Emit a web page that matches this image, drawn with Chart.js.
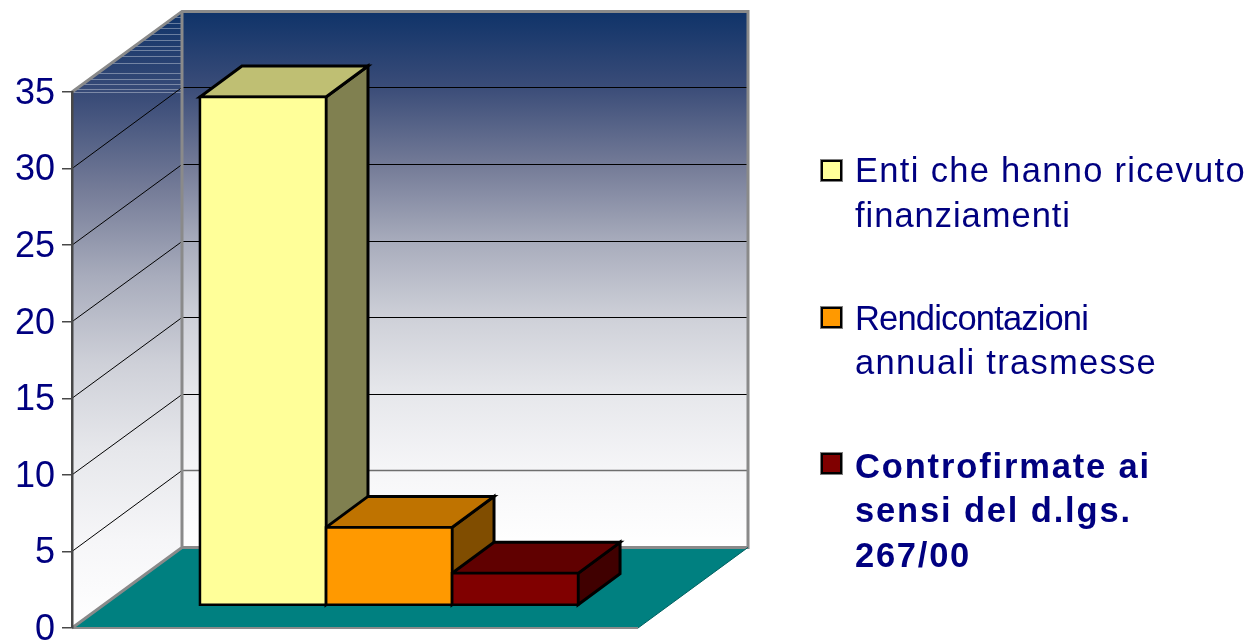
<!DOCTYPE html>
<html>
<head>
<meta charset="utf-8">
<style>html,body{margin:0;padding:0;background:#fff}canvas{display:block}</style>
<script src="https://cdn.jsdelivr.net/npm/chart.js@4/dist/chart.umd.js"></script>
</head>
<body>
<canvas id="c" width="1249" height="641"></canvas>
<script>
const categories = [""];
const seriesNames = ["Enti che hanno ricevuto finanziamenti", "Rendicontazioni annuali trasmesse", "Controfirmate ai sensi del d.lgs. 267/00"];
const enti = [33.2];
const rendicontazioni = [5.1];
const controfirmate = [2.1];
const yTicks = [0, 5, 10, 15, 20, 25, 30, 35];
const legendLines = [["Enti che hanno ricevuto", "finanziamenti"], ["Rendicontazioni", "annuali trasmesse"], ["Controfirmate ai", "sensi del d.lgs.", "267/00"]];
const colors = ["#ffff99", "#ff9900", "#800000"];
const topColors = ["#bfbf73", "#bf7300", "#600000"];
const sideColors = ["#808050", "#804d00", "#400000"];

const NAVY = "#000080";
const WALL = {dx: 110, dy: -80.6};      // depth of the box
const BAR_PLANE = {dx: 34, dy: -22.5};  // front plane of the bars inside the box
const BAR_DEPTH = {dx: 42, dy: -31};
const HAIRLINES = [17, 23, 28, 34, 40, 46, 50, 56, 63, 73, 79, 84, 89, 92];

function poly(ctx, pts, fill, stroke, lw) {
  ctx.beginPath();
  pts.forEach((p, i) => i ? ctx.lineTo(p[0], p[1]) : ctx.moveTo(p[0], p[1]));
  ctx.closePath();
  if (fill) { ctx.fillStyle = fill; ctx.fill(); }
  if (stroke) { ctx.strokeStyle = stroke; ctx.lineWidth = lw; ctx.lineJoin = "miter"; ctx.stroke(); }
}
function wallGradient(ctx, y0, y1) {
  const g = ctx.createLinearGradient(0, y0, 0, y1);
  g.addColorStop(0, "#0f3369");
  g.addColorStop(0.14, "#3a4c78");
  g.addColorStop(0.29, "#757c98");
  g.addColorStop(0.43, "#a8acbc");
  g.addColorStop(0.57, "#ced0d8");
  g.addColorStop(0.71, "#e6e7eb");
  g.addColorStop(0.86, "#f6f6f8");
  g.addColorStop(1, "#ffffff");
  return g;
}

const box3d = {
  id: "box3d",
  beforeDraw(chart) {
    const {ctx, chartArea: a, scales: {y}} = chart;
    const {dx, dy} = WALL;
    const L = a.left, R = a.right, T = a.top, B = a.bottom;
    ctx.save();
    poly(ctx, [[L + dx, T + dy], [R + dx, T + dy], [R + dx, B + dy], [L + dx, B + dy]], wallGradient(ctx, T + dy, B + dy));
    const side = [[L, B], [L, T], [L + dx, T + dy], [L + dx, B + dy]];
    poly(ctx, side, wallGradient(ctx, T + dy, B));
    // faint streaks in the top of the side wall
    ctx.save();
    ctx.beginPath();
    side.forEach((p, i) => i ? ctx.lineTo(p[0], p[1]) : ctx.moveTo(p[0], p[1]));
    ctx.closePath();
    ctx.clip();
    ctx.strokeStyle = "rgba(255,255,255,0.35)";
    ctx.lineWidth = 1;
    HAIRLINES.forEach(h => { ctx.beginPath(); ctx.moveTo(L, h + 0.5); ctx.lineTo(L + dx, h + 0.5); ctx.stroke(); });
    ctx.restore();
    // floor
    poly(ctx, [[L, B], [R, B], [R + dx, B + dy], [L + dx, B + dy]], "#008080");
    // gridlines on both walls
    yTicks.forEach(v => {
      if (v === 0 || v === 35) return;
      const p = y.getPixelForValue(v);
      const back = Math.floor(p + dy) + 0.5;
      ctx.strokeStyle = "#000000";
      ctx.lineWidth = 1;
      ctx.beginPath();
      ctx.moveTo(L, p);
      ctx.lineTo(L + dx, back);
      ctx.stroke();
      if (v === 5) { ctx.strokeStyle = "#6e6e6e"; ctx.lineWidth = 1.5; }
      ctx.beginPath();
      ctx.moveTo(L + dx, back);
      ctx.lineTo(R + dx, back);
      ctx.stroke();
    });
    // grey frame of the walls
    ctx.strokeStyle = "#8a8a8a";
    ctx.lineWidth = 3;
    ctx.lineJoin = "miter";
    ctx.beginPath();
    ctx.moveTo(L, T); ctx.lineTo(L + dx, T + dy); ctx.lineTo(R + dx, T + dy); ctx.lineTo(R + dx, B + dy);
    ctx.lineTo(L + dx, B + dy); ctx.moveTo(L + dx, T + dy); ctx.lineTo(L + dx, B + dy);
    ctx.lineTo(L, B); ctx.stroke();
    ctx.lineWidth = 2;
    ctx.beginPath();
    ctx.moveTo(L, B); ctx.lineTo(R, B); ctx.stroke();
    ctx.lineWidth = 1;
    ctx.strokeStyle = "#006060";
    ctx.beginPath();
    ctx.moveTo(R, B); ctx.lineTo(R + dx, B + dy); ctx.stroke();
    ctx.restore();
  },
  beforeDatasetsDraw(chart) {
    const {ctx} = chart;
    ctx.save();
    ctx.translate(BAR_PLANE.dx, BAR_PLANE.dy);
    const {dx, dy} = BAR_DEPTH;
    chart.data.datasets.forEach((ds, i) => {
      const bar = chart.getDatasetMeta(i).data[0];
      const l = bar.x - bar.width / 2, r = bar.x + bar.width / 2, t = bar.y, b = bar.base;
      poly(ctx, [[r, t], [r + dx, t + dy], [r + dx, b + dy], [r, b]], sideColors[i], "#000", 3);
      poly(ctx, [[l, t], [r, t], [r + dx, t + dy], [l + dx, t + dy]], topColors[i], "#000", 3);
    });
  },
  afterDatasetsDraw(chart) {
    const {ctx} = chart;
    chart.data.datasets.forEach((ds, i) => {
      const bar = chart.getDatasetMeta(i).data[0];
      const l = bar.x - bar.width / 2, r = bar.x + bar.width / 2;
      poly(ctx, [[l, bar.y], [r, bar.y], [r, bar.base], [l, bar.base]], null, "#000", 2.5);
    });
    ctx.restore();
  },
  afterDraw(chart) {
    const {ctx} = chart;
    ctx.save();
    const swatchY = [159, 306, 452];
    const base = [[182, 226.5], [330, 373.5], [478, 522, 567]];
    const lineWidths = [[391, 216], [233, 302], [296, 277, 116]];
    ctx.textAlign = "left";
    ctx.textBaseline = "alphabetic";
    legendLines.forEach((lines, i) => {
      ctx.fillStyle = "#808080";
      ctx.fillRect(820, swatchY[i], 23, 23);
      ctx.fillStyle = "#000";
      ctx.fillRect(821, swatchY[i] + 1, 21, 21);
      ctx.fillStyle = colors[i];
      ctx.fillRect(823, swatchY[i] + 3, 17, 17);
      const bold = i === 2;
      ctx.fillStyle = NAVY;
      ctx.font = (bold ? "bold " : "") + "34.5px 'Liberation Sans'";
      lines.forEach((t, k) => {
        ctx.letterSpacing = "0px";
        const w = ctx.measureText(t).width;
        ctx.letterSpacing = ((lineWidths[i][k] - w) / t.length).toFixed(2) + "px";
        ctx.fillText(t, 855, base[i][k]);
      });
    });
    ctx.letterSpacing = "0px";
    ctx.restore();
  }
};

new Chart(document.getElementById("c"), {
  type: "bar",
  data: {
    labels: categories,
    datasets: [enti, rendicontazioni, controfirmate].map((d, i) => ({
      label: seriesNames[i],
      data: d,
      backgroundColor: colors[i],
      borderWidth: 0,
      barPercentage: 1,
      categoryPercentage: 0.668,
      clip: false
    }))
  },
  options: {
    responsive: false,
    animation: false,
    events: [],
    layout: {padding: {top: 92, right: 611, bottom: 13, left: 0}},
    plugins: {legend: {display: false}, tooltip: {enabled: false}, title: {display: false}},
    scales: {
      x: {display: false},
      y: {
        min: 0,
        max: 35,
        afterFit(s) {
          s.width = 72; s.paddingTop = 0; s.paddingBottom = 0;
          if (!s._labelsNudged) {
            s._labelsNudged = true;
            const draw = s.drawLabels;
            s.drawLabels = function (area) {
              this.ctx.save();
              this.ctx.translate(1, 2);
              draw.call(this, area);
              this.ctx.restore();
            };
          }
        },
        afterBuildTicks(s) { s.ticks = yTicks.map(v => ({value: v})); },
        grid: {drawOnChartArea: false, drawTicks: true, tickLength: 10, color: "#484848", lineWidth: 1.5},
        border: {display: true, color: "#484848", width: 2.5},
        ticks: {color: NAVY, padding: 8, font: {family: "'Liberation Sans'", size: 36}}
      }
    }
  },
  plugins: [box3d]
});
</script>
</body>
</html>
